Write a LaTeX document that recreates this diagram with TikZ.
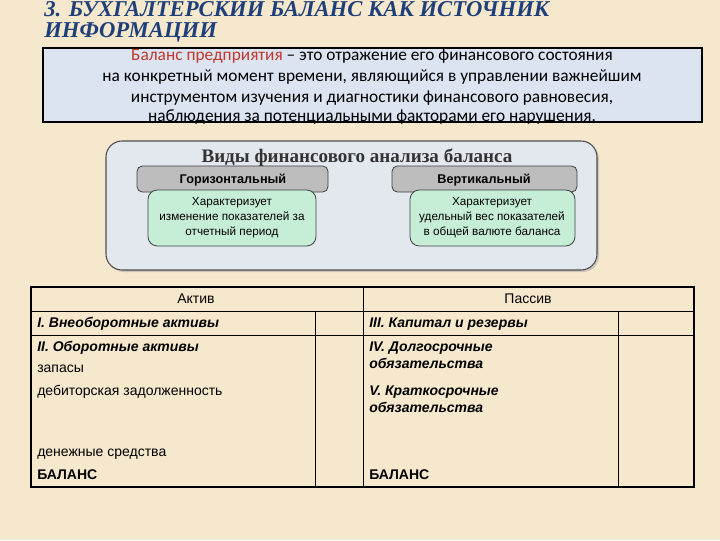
\documentclass[tikz,border=0pt]{standalone}
\usepackage{fontspec}
\setmainfont{Liberation Sans}
\newfontfamily\serifface{Liberation Serif}
\newfontfamily\calibface{Carlito}
\usetikzlibrary{shadows}
\definecolor{bgc}{HTML}{F5E8CC}
\definecolor{titleblue}{HTML}{1F3F7A}
\definecolor{boxblue}{HTML}{DCE3F1}
\definecolor{panelc}{HTML}{E3E8EF}
\definecolor{tabgray}{HTML}{BDBDBD}
\definecolor{mint}{HTML}{C6EED6}
\definecolor{redtxt}{HTML}{C0392B}
\begin{document}
\begin{tikzpicture}[x=0.75pt,y=-0.75pt,
  titletext/.style={anchor=base west,inner sep=0,text=titleblue,font=\serifface\bfseries\itshape\fontsize{17}{17}\selectfont},
  deftext/.style={anchor=base,inner sep=0,font=\calibface\fontsize{13}{13}\selectfont},
  tabtext/.style={inner sep=0,font=\bfseries\fontsize{9.5}{10}\selectfont},
  greentext/.style={inner sep=0,align=center,font=\fontsize{8.8}{11.2}\selectfont},
  celltext/.style={anchor=base west,inner sep=0,font=\fontsize{10.5}{11}\selectfont},
  cellbi/.style={celltext,font=\bfseries\itshape\fontsize{10.5}{11}\selectfont},
  cellb/.style={celltext,font=\bfseries\fontsize{10.5}{11}\selectfont},
  headtext/.style={anchor=base,inner sep=0,font=\fontsize{10.5}{11}\selectfont}]
\useasboundingbox (0,0) rectangle (720,540);
\fill[bgc] (0,0) rectangle (720,540);
% title
\node[titletext] (t1) at (44,16.5) {3. БУХГАЛТЕРСКИЙ БАЛАНС КАК ИСТОЧНИК};
\node[titletext] (t2) at (44,37) {ИНФОРМАЦИИ};
% definition box
\draw[line width=1.1pt,fill=boxblue] (43,48) rectangle (702,122);
\node[deftext] (d1) at (372,60) {{\color{redtxt}Баланс предприятия} – это отражение его финансового состояния};
\node[deftext] (d2) at (372,81) {на конкретный момент времени, являющийся в управлении важнейшим};
\node[deftext] (d3) at (372,102) {инструментом изучения и диагностики финансового равновесия,};
\node[deftext] (d4) at (372,121) {наблюдения за потенциальными факторами его нарушения.};
% panel
\draw[black!70,line width=0.8pt,fill=panelc,rounded corners=12pt,
  drop shadow={shadow xshift=1.5pt,shadow yshift=-1.5pt,fill=black!35}]
  (106,141) rectangle (597,270);
\node[anchor=base,inner sep=0,text=black!80,font=\serifface\bfseries\fontsize{14.3}{14}\selectfont] (ptitle) at (357,162) {Виды финансового анализа баланса};
% tabs
\draw[black!75,line width=0.6pt,fill=tabgray,rounded corners=4pt] (137,166) rectangle (328,192);
\draw[black!75,line width=0.6pt,fill=tabgray,rounded corners=4pt] (392,166) rectangle (577,192);
\node[tabtext] (tabL) at (233,180) {Горизонтальный};
\node[tabtext] (tabR) at (484,180) {Вертикальный};
% green boxes
\draw[black!75,line width=0.6pt,fill=mint,rounded corners=7pt] (148,190) rectangle (316,246);
\draw[black!75,line width=0.6pt,fill=mint,rounded corners=7pt] (410,190) rectangle (575,246);
\node[greentext] (gL) at (232,218) {Характеризует\\изменение показателей за\\отчетный период};
\node[greentext] (gR) at (492,218) {Характеризует\\удельный вес показателей\\в общей валюте баланса};
% table
\draw[line width=0.7pt] (31,311) -- (694,311);
\draw[line width=0.7pt] (31,335) -- (694,335);
\draw[line width=0.7pt] (363,287) -- (363,487);
\draw[line width=0.5pt] (315,311) -- (315,487);
\draw[line width=0.5pt] (618,311) -- (618,487);
\draw[line width=1.5pt] (31,287) rectangle (694,487);
\node[headtext] (hA) at (196,303) {Актив};
\node[headtext] (hP) at (528,303) {Пассив};
\node[cellbi] (r1a) at (37,327) {I. Внеоборотные активы};
\node[cellbi] (r1p) at (369,327) {III. Капитал и резервы};
\node[cellbi] (r2a) at (37,351) {II. Оборотные активы};
\node[celltext] (r3a) at (37,372) {запасы};
\node[celltext] (r4a) at (37,395) {дебиторская задолженность};
\node[celltext] (r5a) at (37,456) {денежные средства};
\node[cellb] (r6a) at (37,479) {БАЛАНС};
\node[cellbi] (r2p) at (369,351) {IV. Долгосрочные};
\node[cellbi] (r3p) at (369,368) {обязательства};
\node[cellbi] (r4p) at (369,395) {V. Краткосрочные};
\node[cellbi] (r5p) at (369,412) {обязательства};
\node[cellb] (r6p) at (369,479) {БАЛАНС};
\end{tikzpicture}
\end{document}
